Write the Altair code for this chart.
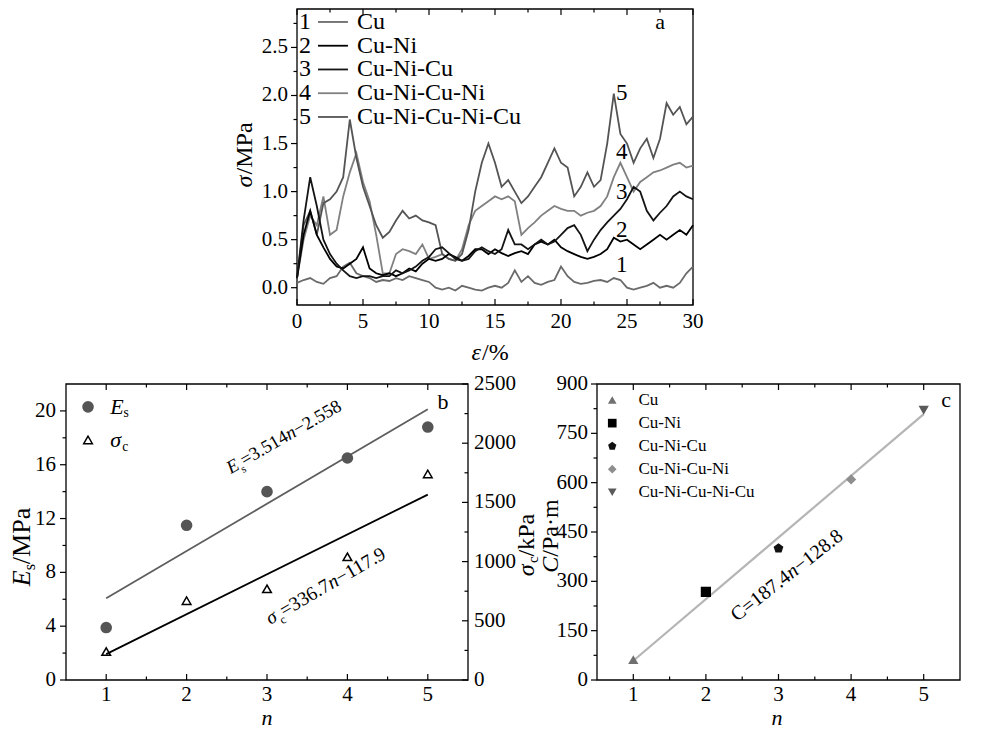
import altair as alt
import pandas as pd

FONT = "Liberation Serif"

# ---------------- panel a : stress / strain curves ----------------
series_names = ["Cu", "Cu-Ni", "Cu-Ni-Cu", "Cu-Ni-Cu-Ni", "Cu-Ni-Cu-Ni-Cu"]
series_nums = ["1", "2", "3", "4", "5"]
strain = [0, 0.5, 1, 1.5, 2, 2.5, 3, 3.5, 4, 4.5, 5, 5.5, 6, 6.5, 7, 7.5, 8, 8.5, 9, 9.5,
          10, 10.5, 11, 11.5, 12, 12.5, 13, 13.5, 14, 14.5, 15, 15.5, 16, 16.5, 17, 17.5,
          18, 18.5, 19, 19.5, 20, 20.5, 21, 21.5, 22, 22.5, 23, 23.5, 24, 24.5, 25, 25.5,
          26, 26.5, 27, 27.5, 28, 28.5, 29, 29.5, 30]
stress_cu = [0.05, 0.08, 0.10, 0.06, 0.04, 0.10, 0.12, 0.22, 0.26, 0.15,
             0.12, 0.10, 0.06, 0.08, 0.07, 0.10, 0.08, 0.12, 0.10, 0.08,
             0.06, 0.00, -0.02, 0.00, -0.03, 0.02, 0.00, -0.02, -0.03, 0.00,
             0.02, 0.00, 0.05, 0.18, 0.06, 0.12, 0.05, 0.03, 0.06, 0.08,
             0.22, 0.12, 0.06, 0.04, 0.05, 0.07, 0.08, 0.06, 0.10, 0.08,
             0.00, -0.02, 0.00, 0.02, 0.05, 0.00, 0.02, 0.00, 0.05, 0.15, 0.22]
stress_cuni = [0.10, 0.55, 0.80, 0.55, 0.42, 0.30, 0.22, 0.20, 0.25, 0.30,
               0.42, 0.20, 0.15, 0.13, 0.15, 0.12, 0.15, 0.20, 0.17, 0.25,
               0.30, 0.28, 0.30, 0.35, 0.32, 0.28, 0.33, 0.40, 0.40, 0.35,
               0.40, 0.36, 0.33, 0.36, 0.38, 0.35, 0.45, 0.48, 0.45, 0.50,
               0.42, 0.38, 0.35, 0.32, 0.30, 0.32, 0.35, 0.40, 0.52, 0.48,
               0.50, 0.45, 0.40, 0.45, 0.50, 0.55, 0.50, 0.55, 0.60, 0.55, 0.65]
stress_cunicu = [0.10, 0.70, 1.15, 0.85, 0.50, 0.35, 0.25, 0.18, 0.12, 0.10,
                 0.12, 0.12, 0.10, 0.12, 0.12, 0.18, 0.15, 0.18, 0.22, 0.28,
                 0.32, 0.40, 0.42, 0.36, 0.30, 0.28, 0.30, 0.38, 0.42, 0.38,
                 0.35, 0.40, 0.60, 0.45, 0.45, 0.40, 0.45, 0.50, 0.45, 0.48,
                 0.55, 0.62, 0.65, 0.55, 0.38, 0.50, 0.60, 0.68, 0.75, 0.82,
                 0.92, 1.05, 1.00, 0.80, 0.70, 0.78, 0.85, 0.95, 1.00, 0.95, 0.92]
stress_cunicuni = [0.10, 0.50, 0.75, 0.65, 0.95, 0.55, 0.60, 0.95, 1.20, 1.40,
                   1.10, 0.90, 0.55, 0.15, 0.15, 0.35, 0.40, 0.38, 0.35, 0.45,
                   0.30, 0.32, 0.35, 0.30, 0.28, 0.40, 0.65, 0.80, 0.85, 0.90,
                   0.95, 0.92, 0.95, 0.90, 0.55, 0.62, 0.68, 0.75, 0.80, 0.85,
                   0.82, 0.80, 0.80, 0.75, 0.78, 0.80, 0.85, 0.95, 1.15, 1.30,
                   1.15, 1.00, 1.10, 1.15, 1.20, 1.22, 1.25, 1.28, 1.30, 1.25, 1.27]
stress_cunicunicu = [0.10, 0.65, 0.80, 0.55, 0.88, 0.92, 1.00, 1.15, 1.75, 1.35,
                     1.05, 0.85, 0.65, 0.52, 0.58, 0.70, 0.80, 0.72, 0.75, 0.70,
                     0.68, 0.65, 0.35, 0.30, 0.28, 0.35, 0.60, 1.00, 1.30, 1.50,
                     1.30, 1.05, 1.12, 1.00, 0.88, 0.95, 1.05, 1.15, 1.30, 1.45,
                     1.30, 1.25, 0.95, 1.05, 1.20, 1.05, 1.12, 1.50, 2.02, 1.60,
                     1.50, 1.30, 1.45, 1.55, 1.35, 1.55, 1.92, 1.80, 1.88, 1.70, 1.78]
a_xticks = [0, 5, 10, 15, 20, 25, 30]
a_xminor = [2.5, 7.5, 12.5, 17.5, 22.5, 27.5]
a_yticks = [0.0, 0.5, 1.0, 1.5, 2.0, 2.5]
a_yminor = [0.25, 0.75, 1.25, 1.75, 2.25, 2.75]
curve_label_strain = [24.6, 24.6, 24.6, 24.6, 24.6]
curve_label_stress = [0.24, 0.60, 1.00, 1.41, 2.03]

# ---------------- panel b : Es and sigma_c vs n ----------------
layers_n = [1, 2, 3, 4, 5]
Es = [3.9, 11.5, 14.0, 16.5, 18.8]
sigma_c = [240, 670, 770, 1040, 1740]
fit_n = [1, 5]
Es_fit = [6.07, 20.13]
sigma_c_fit = [219, 1566]
b_xticks = [1, 2, 3, 4, 5]
b_xminor = [1.5, 2.5, 3.5, 4.5]
b_yticks = [0, 4, 8, 12, 16, 20]
b_yminor = [2, 6, 10, 14, 18]
b_rticks = [0, 500, 1000, 1500, 2000, 2500]
b_rminor = [250, 750, 1250, 1750, 2250]

# ---------------- panel c : C vs n ----------------
C_vals = [62, 268, 400, 610, 820]
C_fit = [58.6, 808.2]
c_yticks = [0, 150, 300, 450, 600, 750, 900]
c_yminor = [75, 225, 375, 525, 675, 825]

# ---------------- styling / layout ----------------
COL_A = ["#6a6a6a", "#000000", "#141414", "#808080", "#545454"]
COL_C = ["#707070", "#000000", "#111111", "#8e8e8e", "#5a5a5a"]
PENT = "M0,-1L0.951,-0.309L0.588,0.809L-0.588,0.809L-0.951,-0.309Z"
SHAPES_C = ["triangle-up", "square", PENT, "diamond", "triangle-down"]

OFF = 8          # page margin: image px -> chart px


def P(v):
    return v - OFF


A_L, A_R, A_T, A_B = 297, 693, 9, 305
B_L, B_R, B_T, B_B = 66, 468, 384, 680
C_L, C_R, C_T, C_B = 597, 960, 384, 680

TICK_FS = 21
TITLE_FS = 24
LEG_A_FS = 24
LEG_FS = 17

WID = {"0": .5, "1": .5, "2": .5, "3": .5, "4": .5, "5": .5, "6": .5, "7": .5, "8": .5,
       "9": .5, ".": .25, "=": .564, "\u2212": .564, "-": .333, "/": .278, "%": .833,
       "M": .889, "P": .556, "a": .444, "k": .5, "\u00b7": .25, "m": .778, "n": .5,
       "E": .611, "C": .667, "s": .389, "c": .444, "\u03c3": .55, "\u03b5": .44}


def tw(s, fs):
    return sum(WID.get(ch, 0.5) for ch in s) * fs


ONE = pd.DataFrame({"k": [0]})


def rich(pieces, fs, xe, ye, data=ONE, angle=None, baseline="alphabetic"):
    out = []
    dx = 0.0
    for txt, style in pieces:
        sub = style == "sub"
        f = round(fs * 0.62, 1) if sub else fs
        kw = dict(text=txt, font=FONT, fontSize=f, color="black", align="left",
                  baseline=baseline, dx=round(dx, 1))
        if sub:
            kw["dy"] = round(fs * 0.3, 1)
        if style == "i":
            kw["fontStyle"] = "italic"
        if angle is not None:
            kw["angle"] = angle
        out.append(alt.Chart(data).mark_text(**kw).encode(x=xe, y=ye))
        dx += tw(txt, f)
    return out


def vtitle(pieces, fs, cx, cy):
    """vertical (rotated) title centred on image point (cx, cy)"""
    total = sum(tw(t, fs * 0.62 if s == "sub" else fs) for t, s in pieces)
    return rich(pieces, fs, alt.value(P(cx)), alt.value(P(cy + total / 2)), angle=270,
                baseline="middle")


def htitle(pieces, fs, cx, cy):
    total = sum(tw(t, fs * 0.62 if s == "sub" else fs) for t, s in pieces)
    return rich(pieces, fs, alt.value(P(cx - total / 2)), alt.value(P(cy)), baseline="middle")


def anchor(xv, yv):
    return pd.DataFrame({"ax": [xv], "ay": [yv]})


def frame(xs, ys, xd, yd):
    d = pd.DataFrame({"x1": [xd[0]], "x2": [xd[1]], "y1": [yd[0]], "y2": [yd[1]]})
    return alt.Chart(d).mark_rect(fillOpacity=0, stroke="black", strokeWidth=1.3).encode(
        x=alt.X("x1:Q", scale=xs, axis=None), x2="x2:Q",
        y=alt.Y("y1:Q", scale=ys, axis=None), y2="y2:Q")


def xticks(vals, xs, top, bottom, ln):
    d = pd.DataFrame({"v": vals})
    base = alt.Chart(d).mark_rule(color="black", strokeWidth=1.2)
    return [
        base.encode(x=alt.X("v:Q", scale=xs, axis=None), y=alt.value(P(bottom)),
                    y2=alt.value(P(bottom) - ln)),
        base.encode(x=alt.X("v:Q", scale=xs, axis=None), y=alt.value(P(top)),
                    y2=alt.value(P(top) + ln)),
    ]


def yticks(vals, ys, xpos, ln):
    d = pd.DataFrame({"v": vals})
    return alt.Chart(d).mark_rule(color="black", strokeWidth=1.2).encode(
        y=alt.Y("v:Q", scale=ys, axis=None), x=alt.value(P(xpos)), x2=alt.value(P(xpos) + ln))


def xlabels(vals, xs, ypix, fmt):
    d = pd.DataFrame({"v": vals})
    return alt.Chart(d).mark_text(font=FONT, fontSize=TICK_FS, align="center",
                                  baseline="middle", color="black").encode(
        x=alt.X("v:Q", scale=xs, axis=None), y=alt.value(P(ypix)),
        text=alt.Text("v:Q", format=fmt))


def ylabels(vals, ys, xpix, fmt, align):
    d = pd.DataFrame({"v": vals})
    return alt.Chart(d).mark_text(font=FONT, fontSize=TICK_FS, align=align,
                                  baseline="middle", color="black").encode(
        y=alt.Y("v:Q", scale=ys, axis=None), x=alt.value(P(xpix)),
        text=alt.Text("v:Q", format=fmt))


def letter(t, xv, yv, xs, ys):
    return alt.Chart(anchor(xv, yv)).mark_text(
        text=t, font=FONT, fontSize=22, align="center", baseline="middle", color="black").encode(
        x=alt.X("ax:Q", scale=xs, axis=None), y=alt.Y("ay:Q", scale=ys, axis=None))


def n_title(cx, cy):
    return alt.Chart(ONE).mark_text(text="n", font=FONT, fontSize=22, fontStyle="italic",
                                    align="center", baseline="middle", color="black").encode(
        x=alt.value(P(cx)), y=alt.value(P(cy)))


# ================= panel a =================
A_XD, A_YD = [0, 30], [-0.18, 2.9]
xsA = alt.Scale(domain=A_XD, range=[P(A_L), P(A_R)], nice=False, zero=False)
ysA = alt.Scale(domain=A_YD, range=[P(A_B), P(A_T)], nice=False, zero=False)
colA = alt.Scale(domain=series_names, range=COL_A)

stress_all = [stress_cu, stress_cuni, stress_cunicu, stress_cunicuni, stress_cunicunicu]
draw_order = [0, 3, 4, 1, 2]
rows = []
for k in draw_order:
    for e, s in zip(strain, stress_all[k]):
        rows.append({"strain": e, "stress": s, "series": series_names[k]})
a_df = pd.DataFrame(rows)

a_lines = alt.Chart(a_df).mark_line(strokeWidth=1.8).encode(
    x=alt.X("strain:Q", scale=xsA, axis=None),
    y=alt.Y("stress:Q", scale=ysA, axis=None),
    color=alt.Color("series:N", scale=colA, legend=None),
    detail="series:N",
)

a_guides = (xticks(a_xticks, xsA, A_T, A_B, 6) + xticks(a_xminor, xsA, A_T, A_B, 3.5)
            + [yticks(a_yticks, ysA, A_L, -6), yticks(a_yminor, ysA, A_L, -3.5),
               xlabels(a_xticks, xsA, A_B + 17, "d"),
               ylabels(a_yticks, ysA, A_L - 9, ".1f", "right")])

# legend positions (layout only)
leg_top, leg_step = 2.765, 0.2471
legA = pd.DataFrame({
    "series": series_names, "num": series_nums,
    "ly": [leg_top - i * leg_step for i in range(5)],
    "lx1": [1.59] * 5, "lx2": [3.86] * 5, "nx": [0.61] * 5, "tx": [4.55] * 5,
})
legA_rules = alt.Chart(legA).mark_rule(strokeWidth=1.8).encode(
    x=alt.X("lx1:Q", scale=xsA, axis=None), x2="lx2:Q",
    y=alt.Y("ly:Q", scale=ysA, axis=None),
    color=alt.Color("series:N", scale=colA, legend=None))
legA_nums = alt.Chart(legA).mark_text(font=FONT, fontSize=LEG_A_FS, align="center",
                                       baseline="middle", color="black").encode(
    x=alt.X("nx:Q", scale=xsA, axis=None), y=alt.Y("ly:Q", scale=ysA, axis=None), text="num:N")
legA_names = alt.Chart(legA).mark_text(font=FONT, fontSize=LEG_A_FS, align="left",
                                        baseline="middle", color="black").encode(
    x=alt.X("tx:Q", scale=xsA, axis=None), y=alt.Y("ly:Q", scale=ysA, axis=None),
    text="series:N")

cl_df = pd.DataFrame({"t": series_nums, "x": curve_label_strain, "y": curve_label_stress})
a_curve_labels = alt.Chart(cl_df).mark_text(font=FONT, fontSize=23, align="center",
                                            baseline="middle", color="black").encode(
    x=alt.X("x:Q", scale=xsA, axis=None), y=alt.Y("y:Q", scale=ysA, axis=None), text="t:N")
a_letter = letter("a", 27.5, 2.765, xsA, ysA)

a_ytitle = vtitle([("\u03c3", "i"), ("/MPa", "n")], TITLE_FS, A_L - 52, 155)
a_xtitle = htitle([("\u03b5", "i"), ("/%", "n")], TITLE_FS, 490, A_B + 48)

panel_a = alt.layer(frame(xsA, ysA, A_XD, A_YD), a_lines, *a_guides, legA_rules, legA_nums,
                    legA_names, a_curve_labels, a_letter, *a_ytitle, *a_xtitle)

# ================= panel b =================
B_XD, B_YD, B_RD = [0.5, 5.5], [0, 22], [0, 2500]
xsB = alt.Scale(domain=B_XD, range=[P(B_L), P(B_R)], nice=False, zero=False)
ysB = alt.Scale(domain=B_YD, range=[P(B_B), P(B_T)], nice=False, zero=False)
rsB = alt.Scale(domain=B_RD, range=[P(B_B), P(B_T)], nice=False, zero=False)

b_df = pd.DataFrame({"n": layers_n, "Es": Es, "sc": sigma_c})
bfit_df = pd.DataFrame({"n": fit_n, "Es_fit": Es_fit, "sc_fit": sigma_c_fit})
ax_b = alt.X("ax:Q", scale=xsB, axis=None)
ay_b = alt.Y("ay:Q", scale=ysB, axis=None)
ay_r = alt.Y("ay:Q", scale=rsB, axis=None)

b_es_fit = alt.Chart(bfit_df).mark_line(color="#5e5e5e", strokeWidth=1.8).encode(
    x=alt.X("n:Q", scale=xsB, axis=None), y=alt.Y("Es_fit:Q", scale=ysB, axis=None))
b_es_pts = alt.Chart(b_df).mark_point(shape="circle", filled=True, size=135, color="#555555",
                                      opacity=1).encode(
    x=alt.X("n:Q", scale=xsB, axis=None), y=alt.Y("Es:Q", scale=ysB, axis=None))
b_leg_c = alt.Chart(anchor(0.774, 20.3)).mark_point(shape="circle", filled=True, size=135,
                                                     color="#555555", opacity=1).encode(
    x=ax_b, y=ay_b)
b_leg_t = alt.Chart(anchor(0.774, 17.84)).mark_point(shape="triangle-up", filled=False, size=75,
                                                      color="black", strokeWidth=1.5,
                                                      opacity=1).encode(x=ax_b, y=ay_b)
b_leg_txt = (rich([("E", "i"), ("s", "sub")], 22, ax_b, ay_b, data=anchor(1.05, 20.3),
                  baseline="middle")
             + rich([("\u03c3", "i"), ("c", "sub")], 22, ax_b, ay_b,
                    data=anchor(1.05, 17.84), baseline="middle"))
b_eq1 = rich([("E", "i"), ("s", "sub"), ("=3.514", "n"), ("n", "i"), ("\u22122.558", "n")],
             18.5, ax_b, ay_b, data=anchor(2.55, 15.3), angle=330)
b_guides = (xticks(b_xticks, xsB, B_T, B_B, 6) + xticks(b_xminor, xsB, B_T, B_B, 3.5)
            + [yticks(b_yticks, ysB, B_L, -6), yticks(b_yminor, ysB, B_L, -3.5),
               xlabels(b_xticks, xsB, B_B + 15, "d"),
               ylabels(b_yticks, ysB, B_L - 10, "d", "right")])
b_ltitle = vtitle([("E", "i"), ("s", "sub"), ("/MPa", "n")], 26, 22, 547)

panel_b_left = alt.layer(frame(xsB, ysB, B_XD, B_YD), b_es_fit, b_es_pts, b_leg_c, b_leg_t,
                         *b_leg_txt, *b_eq1, letter("b", 5.19, 20.67, xsB, ysB), *b_guides,
                         *b_ltitle, n_title((B_L + B_R) / 2, B_B + 38))

b_sc_fit = alt.Chart(bfit_df).mark_line(color="black", strokeWidth=1.8).encode(
    x=alt.X("n:Q", scale=xsB, axis=None), y=alt.Y("sc_fit:Q", scale=rsB, axis=None))
b_sc_pts = alt.Chart(b_df).mark_point(shape="triangle-up", filled=False, size=75, color="black",
                                      strokeWidth=1.5, opacity=1).encode(
    x=alt.X("n:Q", scale=xsB, axis=None), y=alt.Y("sc:Q", scale=rsB, axis=None))
b_eq2 = rich([("\u03c3", "i"), ("c", "sub"), ("=336.7", "n"), ("n", "i"), ("\u2212117.9", "n")],
             19.5, ax_b, ay_r, data=anchor(3.04, 465), angle=330)
b_rguides = [yticks(b_rticks, rsB, B_R, -6), yticks(b_rminor, rsB, B_R, -3.5),
             ylabels(b_rticks, rsB, B_R + 6, "d", "left")]
b_rtitle = vtitle([("\u03c3", "i"), ("c", "sub"), ("/kPa", "n")], TITLE_FS, 527, 545)

panel_b_right = alt.layer(b_sc_fit, b_sc_pts, *b_eq2, *b_rguides, *b_rtitle)

# ================= panel c =================
C_XD, C_YD = [0.5, 5.5], [0, 900]
xsC = alt.Scale(domain=C_XD, range=[P(C_L), P(C_R)], nice=False, zero=False)
ysC = alt.Scale(domain=C_YD, range=[P(C_B), P(C_T)], nice=False, zero=False)
colC = alt.Scale(domain=series_names, range=COL_C)
shpC = alt.Scale(domain=series_names, range=SHAPES_C)

c_df = pd.DataFrame({"n": layers_n, "C": C_vals, "series": series_names})
cfit_df = pd.DataFrame({"n": fit_n, "C_fit": C_fit})
ax_c = alt.X("ax:Q", scale=xsC, axis=None)
ay_c = alt.Y("ay:Q", scale=ysC, axis=None)

c_fit = alt.Chart(cfit_df).mark_line(color="#b5b5b5", strokeWidth=2.2).encode(
    x=alt.X("n:Q", scale=xsC, axis=None), y=alt.Y("C_fit:Q", scale=ysC, axis=None))
c_pts = alt.Chart(c_df).mark_point(filled=True, size=105, opacity=1).encode(
    x=alt.X("n:Q", scale=xsC, axis=None), y=alt.Y("C:Q", scale=ysC, axis=None),
    color=alt.Color("series:N", scale=colC, legend=None),
    shape=alt.Shape("series:N", scale=shpC, legend=None))

legC = pd.DataFrame({
    "series": series_names,
    "ly": [851 - i * 70.0 for i in range(5)],
    "mx": [0.71] * 5, "tx": [1.07] * 5,
})
legC_pts = alt.Chart(legC).mark_point(filled=True, size=75, opacity=1).encode(
    x=alt.X("mx:Q", scale=xsC, axis=None), y=alt.Y("ly:Q", scale=ysC, axis=None),
    color=alt.Color("series:N", scale=colC, legend=None),
    shape=alt.Shape("series:N", scale=shpC, legend=None))
legC_txt = alt.Chart(legC).mark_text(font=FONT, fontSize=LEG_FS, align="left",
                                     baseline="middle", color="black").encode(
    x=alt.X("tx:Q", scale=xsC, axis=None), y=alt.Y("ly:Q", scale=ysC, axis=None),
    text="series:N")
c_eq = rich([("C=187.4", "n"), ("n", "i"), ("\u2212128.8", "n")], 20, ax_c, ay_c,
            data=anchor(2.43, 176), angle=322)
c_guides = (xticks(b_xticks, xsC, C_T, C_B, 6) + xticks(b_xminor, xsC, C_T, C_B, 3.5)
            + [yticks(c_yticks, ysC, C_L, -6), yticks(c_yminor, ysC, C_L, -3.5),
               xlabels(b_xticks, xsC, C_B + 15, "d"),
               ylabels(c_yticks, ysC, C_L - 9, "d", "right")])
c_ytitle = vtitle([("C", "i"), ("/Pa\u00b7m", "n")], TITLE_FS, 551, 537)

panel_c = alt.layer(frame(xsC, ysC, C_XD, C_YD), c_fit, c_pts, legC_pts, legC_txt, *c_eq,
                    letter("c", 5.31, 851, xsC, ysC), *c_guides, *c_ytitle,
                    n_title(777, C_B + 38))

# ================= whole figure =================
chart = alt.layer(panel_a, panel_b_left, panel_b_right, panel_c).resolve_scale(
    x="independent", y="independent", color="independent", shape="independent"
).properties(
    width=967, height=721, padding=0, autosize="none"
).configure_view(stroke="transparent")

chart.save("out.html", embed_options={"renderer": "svg", "actions": False})
